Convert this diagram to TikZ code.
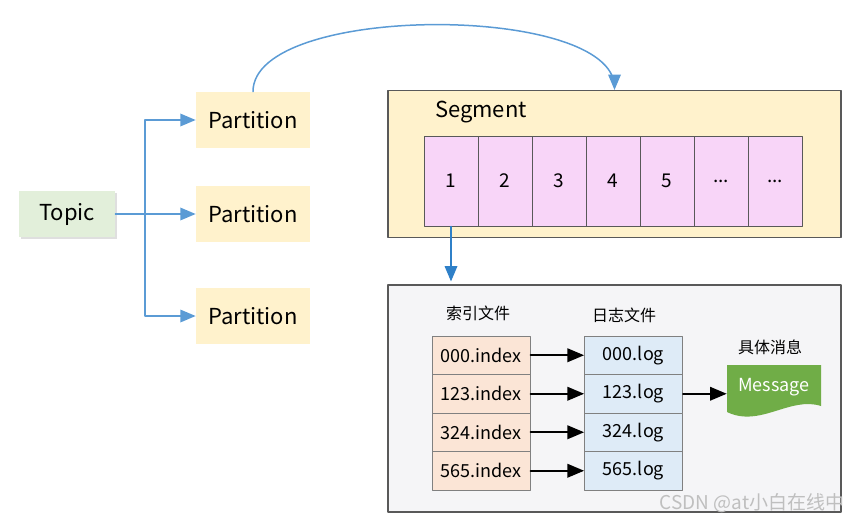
\documentclass[tikz,border=0pt]{standalone}
\usepackage{fontspec}
\setmainfont{Noto Sans CJK SC}
\usepackage{tikz}
\usetikzlibrary{arrows}
\usetikzlibrary{shadows}
\definecolor{topicgreen}{HTML}{E2EFDA}
\definecolor{partyellow}{HTML}{FFF2CC}
\definecolor{cellpink}{HTML}{F8D5F8}
\definecolor{boxgray}{HTML}{F5F5F7}
\definecolor{idxpeach}{HTML}{FBE5D6}
\definecolor{logblue}{HTML}{DEEBF7}
\definecolor{msggreen}{HTML}{70AD47}
\definecolor{linkblue}{HTML}{5B9BD5}
\definecolor{downblue}{HTML}{2F80C8}
\definecolor{edgegray}{HTML}{595959}

\begin{document}
\begin{tikzpicture}[line cap=round,line join=round,>=triangle 45,x=0.5pt,y=-0.5pt,
  topic/.style={fill=topicgreen, minimum width=48pt, minimum height=23pt, font=\fontsize{11}{13}\selectfont,
    drop shadow={shadow xshift=1.2pt, shadow yshift=-1.2pt, opacity=0.25}},
  part/.style={fill=partyellow, minimum width=57pt, minimum height=28pt, font=\fontsize{11}{13}\selectfont},
  cell/.style={draw=edgegray, line width=0.5pt, fill=cellpink, minimum width=27pt, minimum height=45pt, font=\fontsize{9.5}{11}\selectfont},
  idx/.style={draw=gray, line width=0.5pt, fill=idxpeach, minimum width=49pt, minimum height=19.25pt, font=\fontsize{9}{11}\selectfont},
  lg/.style={draw=gray, line width=0.5pt, fill=logblue, minimum width=49pt, minimum height=19.25pt, font=\fontsize{9}{11}\selectfont},
  head/.style={font=\fontsize{8}{10}\selectfont},
  blue link/.style={->, draw=linkblue, line width=0.75pt},
  black link/.style={->, line width=0.9pt}]
    \useasboundingbox (0,0) rectangle (861,525);

    % left part
    \node[topic] (t) at (67,214) {Topic};
    \node[part] (p1) at (253,120) {Partition};
    \node[part] (p2) at (253,214) {Partition};
    \node[part] (p3) at (253,316) {Partition};
    \coordinate (j) at (145,214);
    \draw[blue link] (t.east) -- (p2.west);
    \draw[blue link] (j) |- (p1.west);
    \draw[blue link] (j) |- (p3.west);

    % segment
    \node[draw=edgegray, line width=0.6pt, fill=partyellow, minimum width=226.5pt, minimum height=73.5pt] (seg) at (614.5,164) {};
    \node[anchor=west, font=\fontsize{11}{13}\selectfont] (segl) at (428,112) {Segment};
    \node[cell] (c1) at (451,181) {1};
    \node[cell] (c2) at (505,181) {2};
    \node[cell] (c3) at (559,181) {3};
    \node[cell] (c4) at (613,181) {4};
    \node[cell] (c5) at (667,181) {5};
    \node[cell] (c6) at (721,181) {...};
    \node[cell] (c7) at (775,181) {...};
    \draw[blue link] (p1.north) .. controls (253,3) and (614.5,3) .. (seg.north);

    % files
    \node[draw=edgegray, line width=0.6pt, fill=boxgray, minimum width=226.5pt, minimum height=113.5pt] (files) at (614.5,398.5) {};
    \draw[->, draw=downblue, line width=0.75pt, shorten >=1.5pt] (c1.south) -- (c1.south |- files.north);
    \node[head] (h1) at (478,313) {索引文件};
    \node[head] (h2) at (624,315) {日志文件};
    \node[head] (h3) at (770,347) {具体消息};
    \node[idx] (i1) at (481,355.25) {000.index};
    \node[idx] (i2) at (481,393.75) {123.index};
    \node[idx] (i3) at (481,432.25) {324.index};
    \node[idx] (i4) at (481,470.75) {565.index};
    \node[lg] (l1) at (633.5,355.25) {000.log};
    \node[lg] (l2) at (633.5,393.75) {123.log};
    \node[lg] (l3) at (633.5,432.25) {324.log};
    \node[lg] (l4) at (633.5,470.75) {565.log};
    \draw[black link] (i1) -- (l1);
    \draw[black link] (i2) -- (l2);
    \draw[black link] (i3) -- (l3);
    \draw[black link] (i4) -- (l4);

    % message
    \fill[msggreen] (727,365) -- (821,365) -- (821,406) .. controls (790,396) and (760,428) .. (727,412) -- cycle;
    \node[text=white, minimum width=47pt, minimum height=22pt, font=\fontsize{9}{11}\selectfont] (msg) at (774,387) {Message};
    \draw[black link] (l2.east) -- (l2.east -| msg.west);

    \node[text=gray!50, font=\fontsize{9.5}{11}\selectfont] (wm) at (752,503) {CSDN @at小白在线中};
\end{tikzpicture}
\end{document}
